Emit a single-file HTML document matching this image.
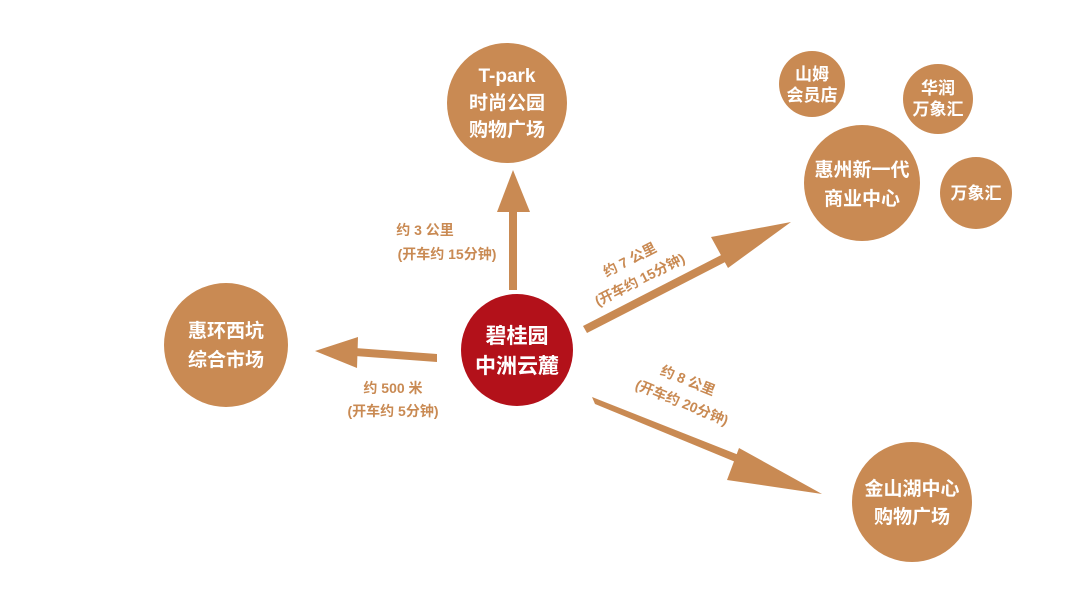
<!DOCTYPE html>
<html><head><meta charset="utf-8"><style>
html,body{margin:0;padding:0;background:#fff;}
svg{display:block;}
text{font-family:"Liberation Sans","Noto Sans CJK SC",sans-serif;font-weight:bold;}
</style></head><body>
<svg width="1080" height="607" viewBox="0 0 1080 607" xmlns="http://www.w3.org/2000/svg">
<g fill="#c98a53">
<circle cx="507" cy="103" r="60"/>
<circle cx="226" cy="345" r="62"/>
<circle cx="862" cy="183" r="58"/>
<circle cx="812" cy="84" r="33"/>
<circle cx="938" cy="99" r="35"/>
<circle cx="976" cy="193" r="36"/>
<circle cx="912" cy="502" r="60"/>
</g>
<circle cx="517" cy="350" r="56" fill="#b3111a"/>
<!-- arrows -->
<g fill="#c98a53" stroke="none">
<rect x="509" y="208" width="8" height="82"/>
<polygon points="513,170 497,212 530,212"/>
<polygon points="437,354 437,362 355,356 355,348"/>
<polygon points="315,351 358,337 357,368"/>
<polygon points="583,326 587,333 733,258 729,251"/>
<polygon points="791,222 711,237 728,268"/>
<polygon points="592,397 595,404 750,468 754,461"/>
<polygon points="822,494 739,448 727,480"/>
</g>
<g fill="#fff" font-size="19" text-anchor="middle">
<text x="507" y="82">T-park</text>
<text x="507" y="109">时尚公园</text>
<text x="507" y="136">购物广场</text>
<text x="226" y="337">惠环西坑</text>
<text x="226" y="366">综合市场</text>
<text x="862" y="176">惠州新一代</text>
<text x="862" y="205">商业中心</text>
<text x="812" y="80" font-size="17">山姆</text>
<text x="812" y="101" font-size="17">会员店</text>
<text x="938" y="94" font-size="17">华润</text>
<text x="938" y="115" font-size="17">万象汇</text>
<text x="976" y="199" font-size="17">万象汇</text>
<text x="912" y="495">金山湖中心</text>
<text x="912" y="523">购物广场</text>
<text x="517" y="343" font-size="21">碧桂园</text>
<text x="517" y="373" font-size="21">中洲云麓</text>
</g>
<g fill="#c98a53" font-size="14" text-anchor="middle">
<text x="425" y="235">约 3 公里</text>
<text x="447" y="259">(开车约 15分钟)</text>
<text x="393" y="393">约 500 米</text>
<text x="393" y="416">(开车约 5分钟)</text>
<g transform="translate(632,264) rotate(-27)"><text x="0" y="0">约 7 公里</text></g>
<g transform="translate(642,284) rotate(-27)"><text x="0" y="0">(开车约 15分钟)</text></g>
<g transform="translate(686,385) rotate(22)"><text x="0" y="0">约 8 公里</text></g>
<g transform="translate(680,407) rotate(22)"><text x="0" y="0">(开车约 20分钟)</text></g>
</g>
</svg>
</body></html>
